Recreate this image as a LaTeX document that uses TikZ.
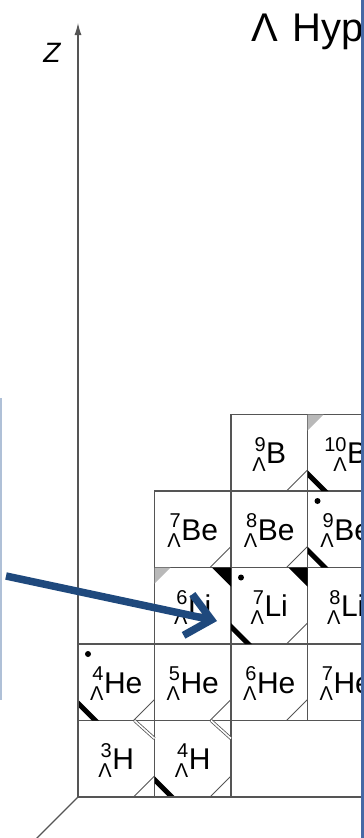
\documentclass[tikz,border=0pt]{standalone}
\usepackage{fontspec}
\setmainfont{Liberation Sans}
\usetikzlibrary{arrows.meta}
\definecolor{arrowblue}{RGB}{31,73,125}
\definecolor{edgeblue}{RGB}{70,105,165}
\definecolor{paleblue}{RGB}{175,192,215}
\definecolor{gridgray}{RGB}{85,85,85}
% hypernucleus symbol: mass number over Lambda, then element
\newcommand{\hypnuc}[2]{%
  \raisebox{-7.5pt}{\fontsize{20}{22}\selectfont\shortstack[r]{#1\\[3pt]Λ}}\kern0.5pt#2}
\tikzset{
  cell/.style={draw=gridgray, line width=1.2pt, minimum size=76.5pt, inner sep=0pt,
    outer sep=0pt, text height=30pt, text depth=8pt, font=\fontsize{30}{32}\selectfont},
  axisline/.style={draw=gridgray, line width=1.1pt},
  openedge/.style={draw=gridgray, line width=0.9pt},
  pointer/.style={draw=arrowblue, line width=7.5pt, -{Straight Barb[length=24pt,width=42pt]}},
}
\begin{document}
\begin{tikzpicture}[x=1pt, y=-1pt]
    \clip (0,0) rectangle (364,838);
    % chart cells: name/column/row/mass/element
    \foreach \nm/\cc/\rr/\ma/\el in {h3/1/1/3/H, h4/2/1/4/H,
        he4/1/2/4/He, he5/2/2/5/He, he6/3/2/6/He, he7/4/2/7/He,
        li6/2/3/6/Li, li7/3/3/7/Li, li8/4/3/8/Li,
        be7/2/4/7/Be, be8/3/4/8/Be, be9/4/4/9/Be,
        b9/3/5/9/B, b10/4/5/10/B}
      \node[cell] (\nm) at ({78+76.5*(\cc-0.5)}, {797-76.5*(\rr-0.5)}) {\hypnuc{\ma}{\el}};
    % open corners, bottom right
    \foreach \c in {h3,h4,he4,he5,he6,li7,be7,be8,b9}
      \draw[openedge] ([xshift=-21pt]\c.south east) -- ([yshift=21pt]\c.south east);
    % double edges, top right
    \foreach \c in {h3,h4}
      \draw[gridgray, line width=0.8pt, double, double distance=1.6pt]
        ([xshift=-20pt]\c.north east) -- ([yshift=-18pt]\c.north east);
    % thick black edges, bottom left
    \foreach \c in {h4,he4,li7,be9,b10}
      \fill[black] ([yshift=21pt]\c.south west) -- ([xshift=21pt]\c.south west)
        -- ([xshift=14pt]\c.south west) -- ([yshift=14pt]\c.south west) -- cycle;
    % black corners, top right
    \foreach \c in {li6,li7}
      \fill[black] (\c.north east) -- ([xshift=-19pt]\c.north east) -- ([yshift=-19pt]\c.north east) -- cycle;
    % grey corners, top left
    \foreach \c in {li6,b10}
      \fill[gray!55] (\c.north west) -- ([xshift=16pt]\c.north west) -- ([yshift=-16pt]\c.north west) -- cycle;
    % dots
    \foreach \c in {he4,li7,be9}
      \fill[black] ([shift={(10pt,-10pt)}]\c.north west) circle (3pt);
    % axes
    \coordinate (origin) at (78,797);
    \coordinate (ztip) at (78,23);
    \coordinate (nend) at (370,797);
    \coordinate (depth) at (30,845);
    \draw[axisline, -{Latex[length=12pt,width=7pt]}] (origin) -- (ztip);
    \draw[axisline] (origin) -- (nend);
    \draw[axisline] (origin) -- (depth);
    \node[font=\fontsize{28}{30}\selectfont\itshape] (zlab) at (52,53) {Z};
    \node[anchor=base west, font=\fontsize{40}{44}\selectfont, inner sep=0pt] (title) at (251,41) {Λ\hspace{15pt}Hyp};
    % pointer
    \coordinate (tail) at (6,576);
    \coordinate (tip) at (217,621);
    \draw[pointer] (tail) -- (tip);
    % frame edges
    \coordinate (ltop) at (1,398);
    \coordinate (lbot) at (1,700);
    \coordinate (rtop) at (362.5,0);
    \coordinate (rbot) at (362.5,838);
    \draw[paleblue, line width=1.5pt] (ltop) -- (lbot);
    \draw[edgeblue, line width=2.5pt] (rtop) -- (rbot);
\end{tikzpicture}
\end{document}
